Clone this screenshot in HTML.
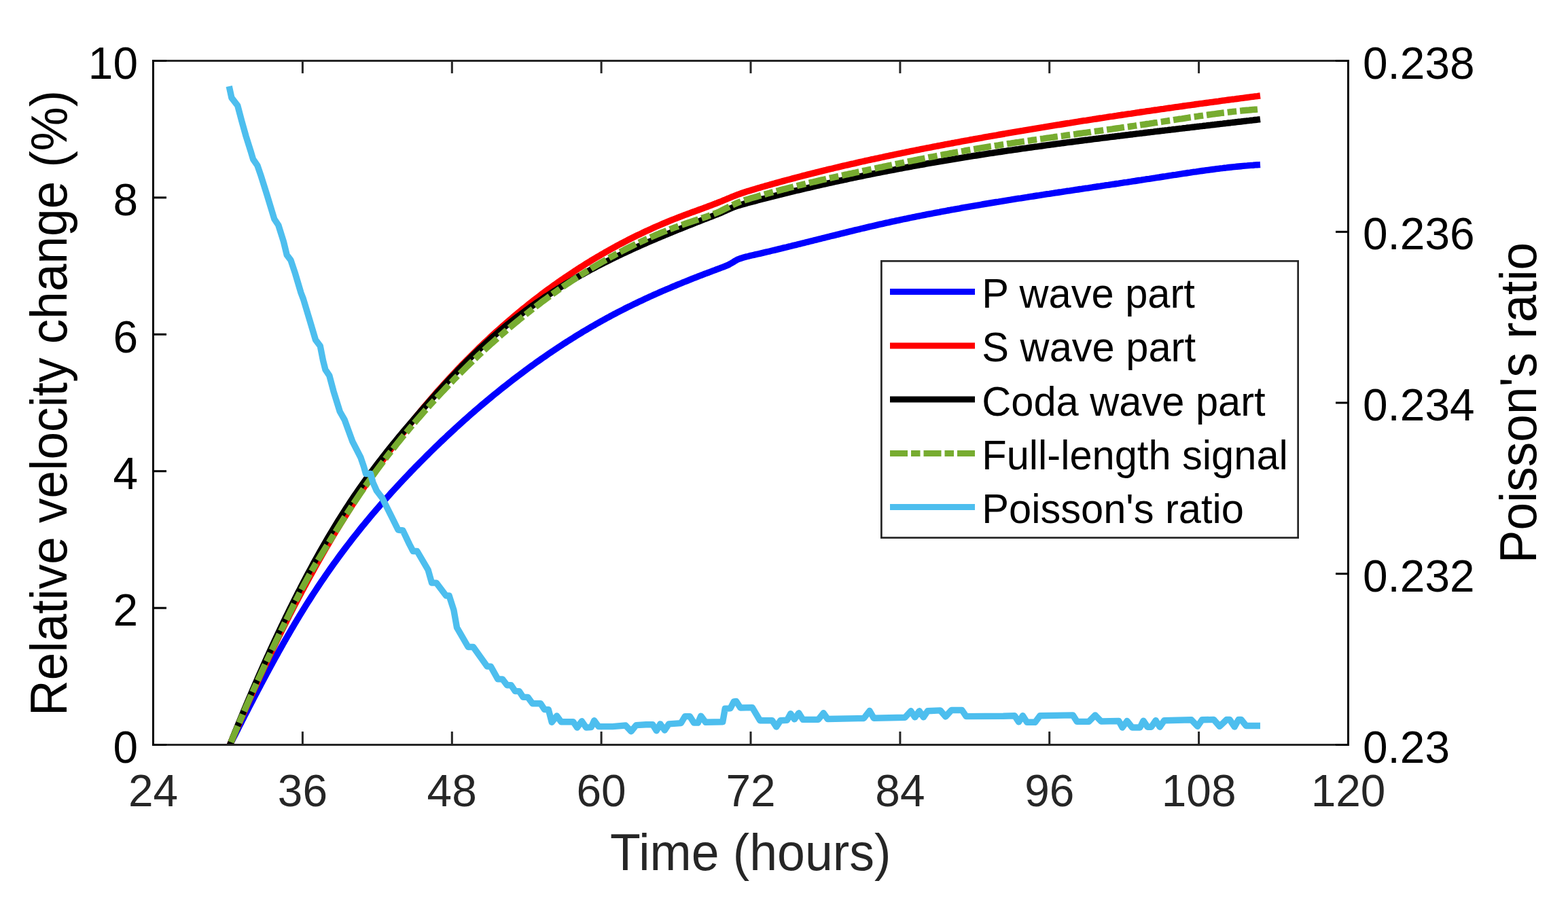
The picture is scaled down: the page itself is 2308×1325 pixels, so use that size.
<!DOCTYPE html><html><head><meta charset="utf-8"><title>Relative velocity change and Poisson's ratio</title>
<style>html,body{margin:0;padding:0;background:#fff;}svg{display:block;}text{font-family:"Liberation Sans",Arial,Helvetica,sans-serif;}</style></head><body>
<svg width="2308" height="1325" viewBox="0 0 2308 1325">
<rect width="2308" height="1325" fill="#fff"/>
<defs><clipPath id="ax"><rect x="225.5" y="89.5" width="1759.0" height="1007.0"/></clipPath></defs>
<g clip-path="url(#ax)" fill="none" stroke-width="9.4" stroke-linejoin="round" stroke-linecap="butt">
<path d="M338.5 1096.5L339.5 1094.5L340.5 1092.5L341.5 1090.5L342.5 1088.5L343.5 1086.5L344.5 1084.6L345.5 1082.6L346.5 1080.6L347.5 1078.6L348.5 1076.6L349.5 1074.7L350.5 1072.7L351.5 1070.7L352.5 1068.7L353.5 1066.8L354.5 1064.8L355.5 1062.8L356.5 1060.9L357.5 1058.9L358.5 1057.0L359.5 1055.0L360.5 1053.0L361.5 1051.1L362.5 1049.1L363.5 1047.2L364.5 1045.3L365.5 1043.3L366.5 1041.4L367.5 1039.4L368.5 1037.5L369.5 1035.6L370.5 1033.6L371.5 1031.7L372.5 1029.8L373.5 1027.9L374.5 1025.9L375.5 1024.0L376.5 1022.1L377.5 1020.2L378.5 1018.3L379.5 1016.4L380.5 1014.5L381.5 1012.6L382.5 1010.7L383.5 1008.8L384.5 1006.9L385.5 1005.0L386.5 1003.1L387.5 1001.2L388.5 999.4L389.5 997.5L390.5 995.6L391.5 993.8L392.5 991.9L393.5 990.0L394.5 988.2L395.5 986.3L396.5 984.5L397.5 982.6L398.5 980.8L399.5 978.9L400.5 977.1L401.5 975.3L402.5 973.5L403.5 971.6L404.5 969.8L405.5 968.0L406.5 966.2L407.5 964.4L408.5 962.6L409.5 960.8L410.5 959.0L411.5 957.2L412.5 955.4L413.5 953.6L414.5 951.8L415.5 950.1L416.5 948.3L417.5 946.5L418.5 944.8L419.5 943.0L420.5 941.3L421.5 939.5L422.5 937.8L423.5 936.0L424.5 934.3L425.5 932.6L426.5 930.8L427.5 929.1L428.5 927.4L429.5 925.7L430.5 924.0L431.5 922.3L432.5 920.6L433.5 918.9L434.5 917.2L435.5 915.6L436.5 913.9L437.5 912.2L438.5 910.5L439.5 908.9L440.5 907.2L441.5 905.6L442.5 903.9L443.5 902.3L444.5 900.7L445.5 899.0L446.5 897.4L447.5 895.8L448.5 894.2L449.5 892.6L452.5 887.8L455.5 883.1L458.5 878.4L461.5 873.8L464.5 869.2L467.5 864.6L470.5 860.1L473.5 855.7L476.5 851.3L479.5 846.9L482.5 842.6L485.5 838.3L488.5 834.0L491.5 829.8L494.5 825.7L497.5 821.5L500.5 817.4L503.5 813.4L506.5 809.4L509.5 805.4L512.5 801.5L515.5 797.6L518.5 793.7L521.5 789.9L524.5 786.1L527.5 782.3L530.5 778.5L533.5 774.8L536.5 771.2L539.5 767.5L542.5 763.9L545.5 760.3L548.5 756.8L551.5 753.2L554.5 749.7L557.5 746.3L560.5 742.8L563.5 739.4L566.5 736.0L569.5 732.6L572.5 729.3L575.5 725.9L578.5 722.6L581.5 719.4L584.5 716.1L587.5 712.9L590.5 709.6L593.5 706.4L596.5 703.3L599.5 700.1L602.5 697.0L605.5 693.8L608.5 690.7L611.5 687.6L614.5 684.6L617.5 681.5L620.5 678.5L623.5 675.5L626.5 672.4L629.5 669.5L632.5 666.5L635.5 663.5L638.5 660.6L641.5 657.7L644.5 654.8L647.5 651.9L650.5 649.0L653.5 646.2L656.5 643.4L659.5 640.5L662.5 637.7L665.5 635.0L668.5 632.2L671.5 629.4L674.5 626.7L677.5 624.0L680.5 621.3L683.5 618.6L686.5 615.9L689.5 613.3L692.5 610.6L695.5 608.0L698.5 605.4L701.5 602.8L704.5 600.2L707.5 597.7L710.5 595.1L713.5 592.6L716.5 590.1L719.5 587.6L722.5 585.1L725.5 582.6L728.5 580.2L731.5 577.8L734.5 575.3L737.5 572.9L740.5 570.5L743.5 568.2L746.5 565.8L749.5 563.5L752.5 561.1L755.5 558.8L758.5 556.5L761.5 554.2L764.5 552.0L767.5 549.7L770.5 547.5L773.5 545.2L776.5 543.0L779.5 540.8L782.5 538.6L785.5 536.5L788.5 534.3L791.5 532.2L794.5 530.1L797.5 527.9L800.5 525.9L803.5 523.8L806.5 521.7L809.5 519.7L812.5 517.6L815.5 515.6L818.5 513.6L821.5 511.6L824.5 509.6L827.5 507.7L830.5 505.7L833.5 503.8L836.5 501.9L839.5 500.0L842.5 498.1L845.5 496.2L848.5 494.3L851.5 492.5L854.5 490.7L857.5 488.8L860.5 487.0L863.5 485.3L866.5 483.5L869.5 481.7L872.5 480.0L875.5 478.3L878.5 476.5L881.5 474.8L884.5 473.2L887.5 471.5L890.5 469.8L893.5 468.2L896.5 466.6L899.5 464.9L902.5 463.3L905.5 461.8L908.5 460.2L911.5 458.6L914.5 457.1L917.5 455.6L920.5 454.0L923.5 452.5L926.5 451.1L929.5 449.6L932.5 448.1L935.5 446.7L938.5 445.2L941.5 443.8L944.5 442.4L947.5 441.0L950.5 439.6L953.5 438.2L956.5 436.8L959.5 435.5L962.5 434.1L965.5 432.8L968.5 431.5L971.5 430.1L974.5 428.8L977.5 427.5L980.5 426.2L983.5 425.0L986.5 423.7L989.5 422.4L992.5 421.2L995.5 419.9L998.5 418.7L1001.5 417.5L1004.5 416.2L1007.5 415.0L1010.5 413.8L1013.5 412.6L1016.5 411.4L1019.5 410.2L1022.5 409.0L1025.5 407.9L1028.5 406.7L1031.5 405.5L1034.5 404.4L1037.5 403.2L1040.5 402.1L1043.5 401.0L1046.5 399.8L1049.5 398.7L1052.5 397.6L1055.5 396.4L1058.5 395.3L1061.5 394.2L1064.5 393.1L1067.5 391.9L1070.5 390.7L1073.5 389.2L1076.5 387.5L1079.5 385.7L1082.5 383.8L1085.5 382.2L1088.5 381.0L1091.5 380.0L1094.5 379.1L1097.5 378.2L1100.5 377.5L1103.5 376.7L1106.5 376.0L1109.5 375.4L1112.5 374.7L1115.5 374.0L1118.5 373.3L1121.5 372.6L1124.5 371.9L1127.5 371.2L1130.5 370.5L1133.5 369.8L1136.5 369.0L1139.5 368.3L1142.5 367.6L1145.5 366.9L1148.5 366.2L1151.5 365.4L1154.5 364.7L1157.5 364.0L1160.5 363.2L1163.5 362.5L1166.5 361.7L1169.5 361.0L1172.5 360.3L1175.5 359.5L1178.5 358.8L1181.5 358.0L1184.5 357.3L1187.5 356.5L1190.5 355.8L1193.5 355.0L1196.5 354.3L1199.5 353.5L1202.5 352.8L1205.5 352.0L1208.5 351.3L1211.5 350.5L1214.5 349.8L1217.5 349.0L1220.5 348.3L1223.5 347.5L1226.5 346.8L1229.5 346.1L1232.5 345.3L1235.5 344.6L1238.5 343.8L1241.5 343.1L1244.5 342.4L1247.5 341.6L1250.5 340.9L1253.5 340.2L1256.5 339.4L1259.5 338.7L1262.5 338.0L1265.5 337.3L1268.5 336.5L1271.5 335.8L1274.5 335.1L1277.5 334.4L1280.5 333.7L1283.5 333.0L1286.5 332.3L1289.5 331.6L1292.5 330.9L1295.5 330.2L1298.5 329.6L1301.5 328.9L1304.5 328.2L1307.5 327.6L1310.5 326.9L1313.5 326.2L1316.5 325.6L1319.5 324.9L1322.5 324.3L1325.5 323.7L1328.5 323.0L1331.5 322.4L1334.5 321.8L1337.5 321.1L1340.5 320.5L1343.5 319.9L1346.5 319.3L1349.5 318.7L1352.5 318.1L1355.5 317.5L1358.5 316.9L1361.5 316.3L1364.5 315.7L1367.5 315.1L1370.5 314.6L1373.5 314.0L1376.5 313.4L1379.5 312.8L1382.5 312.3L1385.5 311.7L1388.5 311.1L1391.5 310.6L1394.5 310.0L1397.5 309.5L1400.5 308.9L1403.5 308.4L1406.5 307.8L1409.5 307.3L1412.5 306.8L1415.5 306.2L1418.5 305.7L1421.5 305.2L1424.5 304.7L1427.5 304.1L1430.5 303.6L1433.5 303.1L1436.5 302.6L1439.5 302.1L1442.5 301.6L1445.5 301.0L1448.5 300.5L1451.5 300.0L1454.5 299.5L1457.5 299.0L1460.5 298.5L1463.5 298.0L1466.5 297.5L1469.5 297.1L1472.5 296.6L1475.5 296.1L1478.5 295.6L1481.5 295.1L1484.5 294.6L1487.5 294.2L1490.5 293.7L1493.5 293.2L1496.5 292.7L1499.5 292.2L1502.5 291.8L1505.5 291.3L1508.5 290.8L1511.5 290.4L1514.5 289.9L1517.5 289.4L1520.5 289.0L1523.5 288.5L1526.5 288.0L1529.5 287.6L1532.5 287.1L1535.5 286.7L1538.5 286.2L1541.5 285.7L1544.5 285.3L1547.5 284.8L1550.5 284.4L1553.5 283.9L1556.5 283.5L1559.5 283.0L1562.5 282.6L1565.5 282.1L1568.5 281.7L1571.5 281.2L1574.5 280.8L1577.5 280.3L1580.5 279.9L1583.5 279.4L1586.5 279.0L1589.5 278.5L1592.5 278.1L1595.5 277.6L1598.5 277.2L1601.5 276.8L1604.5 276.3L1607.5 275.9L1610.5 275.4L1613.5 275.0L1616.5 274.5L1619.5 274.1L1622.5 273.6L1625.5 273.2L1628.5 272.7L1631.5 272.3L1634.5 271.8L1637.5 271.4L1640.5 271.0L1643.5 270.5L1646.5 270.1L1649.5 269.6L1652.5 269.2L1655.5 268.7L1658.5 268.3L1661.5 267.8L1664.5 267.4L1667.5 266.9L1670.5 266.5L1673.5 266.0L1676.5 265.5L1679.5 265.1L1682.5 264.6L1685.5 264.2L1688.5 263.7L1691.5 263.3L1694.5 262.8L1697.5 262.3L1700.5 261.9L1703.5 261.4L1706.5 261.0L1709.5 260.5L1712.5 260.0L1715.5 259.6L1718.5 259.1L1721.5 258.6L1724.5 258.2L1727.5 257.7L1730.5 257.3L1733.5 256.8L1736.5 256.3L1739.5 255.9L1742.5 255.4L1745.5 255.0L1748.5 254.5L1751.5 254.1L1754.5 253.6L1757.5 253.2L1760.5 252.8L1763.5 252.3L1766.5 251.9L1769.5 251.5L1772.5 251.1L1775.5 250.7L1778.5 250.3L1781.5 249.9L1784.5 249.5L1787.5 249.1L1790.5 248.7L1793.5 248.3L1796.5 247.9L1799.5 247.6L1802.5 247.2L1805.5 246.9L1808.5 246.5L1811.5 246.2L1814.5 245.9L1817.5 245.6L1820.5 245.3L1823.5 245.0L1826.5 244.7L1829.5 244.4L1832.5 244.1L1835.5 243.9L1838.5 243.6L1841.5 243.4L1844.5 243.2L1847.5 242.9L1850.5 242.7L1853.5 242.6L1855.0 242.5" stroke="#0000ff"/>
<path d="M338.5 1096.5L339.5 1094.1L340.5 1091.8L341.5 1089.4L342.5 1087.0L343.5 1084.7L344.5 1082.3L345.5 1080.0L346.5 1077.7L347.5 1075.3L348.5 1073.0L349.5 1070.7L350.5 1068.3L351.5 1066.0L352.5 1063.7L353.5 1061.4L354.5 1059.1L355.5 1056.8L356.5 1054.5L357.5 1052.2L358.5 1049.9L359.5 1047.6L360.5 1045.3L361.5 1043.1L362.5 1040.8L363.5 1038.5L364.5 1036.3L365.5 1034.0L366.5 1031.7L367.5 1029.5L368.5 1027.3L369.5 1025.0L370.5 1022.8L371.5 1020.5L372.5 1018.3L373.5 1016.1L374.5 1013.9L375.5 1011.7L376.5 1009.5L377.5 1007.3L378.5 1005.1L379.5 1002.9L380.5 1000.7L381.5 998.5L382.5 996.3L383.5 994.1L384.5 992.0L385.5 989.8L386.5 987.6L387.5 985.5L388.5 983.3L389.5 981.2L390.5 979.0L391.5 976.9L392.5 974.8L393.5 972.6L394.5 970.5L395.5 968.4L396.5 966.3L397.5 964.2L398.5 962.0L399.5 959.9L400.5 957.8L401.5 955.8L402.5 953.7L403.5 951.6L404.5 949.5L405.5 947.4L406.5 945.4L407.5 943.3L408.5 941.2L409.5 939.2L410.5 937.1L411.5 935.1L412.5 933.1L413.5 931.0L414.5 929.0L415.5 927.0L416.5 924.9L417.5 922.9L418.5 920.9L419.5 918.9L420.5 916.9L421.5 914.9L422.5 912.9L423.5 910.9L424.5 909.0L425.5 907.0L426.5 905.0L427.5 903.1L428.5 901.1L429.5 899.1L430.5 897.2L431.5 895.2L432.5 893.3L433.5 891.4L434.5 889.4L435.5 887.5L436.5 885.6L437.5 883.7L438.5 881.8L439.5 879.9L440.5 878.0L441.5 876.1L442.5 874.2L443.5 872.3L444.5 870.4L445.5 868.5L446.5 866.7L447.5 864.8L448.5 862.9L449.5 861.1L452.5 855.5L455.5 850.0L458.5 844.6L461.5 839.2L464.5 833.8L467.5 828.4L470.5 823.1L473.5 817.9L476.5 812.7L479.5 807.5L482.5 802.4L485.5 797.3L488.5 792.2L491.5 787.2L494.5 782.2L497.5 777.3L500.5 772.4L503.5 767.5L506.5 762.7L509.5 757.9L512.5 753.1L515.5 748.4L518.5 743.7L521.5 739.0L524.5 734.4L527.5 729.8L530.5 725.3L533.5 720.8L536.5 716.3L539.5 711.9L542.5 707.4L545.5 703.1L548.5 698.7L551.5 694.4L554.5 690.1L557.5 685.9L560.5 681.7L563.5 677.5L566.5 673.3L569.5 669.2L572.5 665.1L575.5 661.1L578.5 657.0L581.5 653.0L584.5 649.1L587.5 645.1L590.5 641.2L593.5 637.3L596.5 633.5L599.5 629.7L602.5 625.9L605.5 622.1L608.5 618.4L611.5 614.7L614.5 611.0L617.5 607.4L620.5 603.7L623.5 600.1L626.5 596.6L629.5 593.0L632.5 589.5L635.5 586.0L638.5 582.6L641.5 579.1L644.5 575.7L647.5 572.4L650.5 569.0L653.5 565.7L656.5 562.4L659.5 559.1L662.5 555.8L665.5 552.6L668.5 549.4L671.5 546.2L674.5 543.1L677.5 539.9L680.5 536.8L683.5 533.8L686.5 530.7L689.5 527.7L692.5 524.7L695.5 521.7L698.5 518.7L701.5 515.8L704.5 512.8L707.5 510.0L710.5 507.1L713.5 504.2L716.5 501.4L719.5 498.6L722.5 495.8L725.5 493.1L728.5 490.3L731.5 487.6L734.5 484.9L737.5 482.2L740.5 479.6L743.5 477.0L746.5 474.4L749.5 471.8L752.5 469.2L755.5 466.7L758.5 464.1L761.5 461.6L764.5 459.1L767.5 456.7L770.5 454.2L773.5 451.8L776.5 449.4L779.5 447.0L782.5 444.6L785.5 442.3L788.5 440.0L791.5 437.7L794.5 435.4L797.5 433.1L800.5 430.9L803.5 428.6L806.5 426.4L809.5 424.2L812.5 422.1L815.5 419.9L818.5 417.8L821.5 415.6L824.5 413.5L827.5 411.5L830.5 409.4L833.5 407.3L836.5 405.3L839.5 403.3L842.5 401.3L845.5 399.3L848.5 397.4L851.5 395.4L854.5 393.5L857.5 391.6L860.5 389.7L863.5 387.8L866.5 386.0L869.5 384.1L872.5 382.3L875.5 380.5L878.5 378.7L881.5 377.0L884.5 375.2L887.5 373.5L890.5 371.7L893.5 370.0L896.5 368.3L899.5 366.7L902.5 365.0L905.5 363.4L908.5 361.7L911.5 360.1L914.5 358.5L917.5 357.0L920.5 355.4L923.5 353.8L926.5 352.3L929.5 350.8L932.5 349.3L935.5 347.8L938.5 346.3L941.5 344.9L944.5 343.5L947.5 342.0L950.5 340.6L953.5 339.2L956.5 337.9L959.5 336.5L962.5 335.1L965.5 333.8L968.5 332.5L971.5 331.2L974.5 329.9L977.5 328.6L980.5 327.4L983.5 326.1L986.5 324.9L989.5 323.7L992.5 322.5L995.5 321.3L998.5 320.1L1001.5 319.0L1004.5 317.8L1007.5 316.7L1010.5 315.6L1013.5 314.5L1016.5 313.3L1019.5 312.2L1022.5 311.2L1025.5 310.1L1028.5 309.0L1031.5 307.9L1034.5 306.8L1037.5 305.7L1040.5 304.6L1043.5 303.4L1046.5 302.3L1049.5 301.2L1052.5 300.0L1055.5 298.9L1058.5 297.7L1061.5 296.5L1064.5 295.2L1067.5 294.0L1070.5 292.7L1073.5 291.5L1076.5 290.2L1079.5 289.0L1082.5 287.8L1085.5 286.7L1088.5 285.6L1091.5 284.5L1094.5 283.5L1097.5 282.5L1100.5 281.6L1103.5 280.7L1106.5 279.7L1109.5 278.9L1112.5 278.0L1115.5 277.1L1118.5 276.2L1121.5 275.3L1124.5 274.5L1127.5 273.6L1130.5 272.8L1133.5 271.9L1136.5 271.1L1139.5 270.2L1142.5 269.4L1145.5 268.6L1148.5 267.7L1151.5 266.9L1154.5 266.1L1157.5 265.3L1160.5 264.5L1163.5 263.7L1166.5 262.9L1169.5 262.1L1172.5 261.3L1175.5 260.5L1178.5 259.7L1181.5 258.9L1184.5 258.2L1187.5 257.4L1190.5 256.6L1193.5 255.9L1196.5 255.1L1199.5 254.4L1202.5 253.6L1205.5 252.9L1208.5 252.1L1211.5 251.4L1214.5 250.7L1217.5 249.9L1220.5 249.2L1223.5 248.5L1226.5 247.8L1229.5 247.0L1232.5 246.3L1235.5 245.6L1238.5 244.9L1241.5 244.2L1244.5 243.5L1247.5 242.8L1250.5 242.1L1253.5 241.4L1256.5 240.8L1259.5 240.1L1262.5 239.4L1265.5 238.7L1268.5 238.0L1271.5 237.4L1274.5 236.7L1277.5 236.0L1280.5 235.4L1283.5 234.7L1286.5 234.1L1289.5 233.4L1292.5 232.8L1295.5 232.1L1298.5 231.5L1301.5 230.8L1304.5 230.2L1307.5 229.6L1310.5 228.9L1313.5 228.3L1316.5 227.7L1319.5 227.0L1322.5 226.4L1325.5 225.8L1328.5 225.2L1331.5 224.6L1334.5 223.9L1337.5 223.3L1340.5 222.7L1343.5 222.1L1346.5 221.5L1349.5 220.9L1352.5 220.3L1355.5 219.7L1358.5 219.1L1361.5 218.5L1364.5 217.9L1367.5 217.4L1370.5 216.8L1373.5 216.2L1376.5 215.6L1379.5 215.0L1382.5 214.5L1385.5 213.9L1388.5 213.3L1391.5 212.7L1394.5 212.2L1397.5 211.6L1400.5 211.0L1403.5 210.5L1406.5 209.9L1409.5 209.4L1412.5 208.8L1415.5 208.2L1418.5 207.7L1421.5 207.1L1424.5 206.6L1427.5 206.0L1430.5 205.5L1433.5 204.9L1436.5 204.4L1439.5 203.9L1442.5 203.3L1445.5 202.8L1448.5 202.2L1451.5 201.7L1454.5 201.2L1457.5 200.6L1460.5 200.1L1463.5 199.6L1466.5 199.1L1469.5 198.5L1472.5 198.0L1475.5 197.5L1478.5 197.0L1481.5 196.4L1484.5 195.9L1487.5 195.4L1490.5 194.9L1493.5 194.4L1496.5 193.9L1499.5 193.4L1502.5 192.9L1505.5 192.4L1508.5 191.8L1511.5 191.3L1514.5 190.8L1517.5 190.3L1520.5 189.8L1523.5 189.3L1526.5 188.8L1529.5 188.3L1532.5 187.8L1535.5 187.4L1538.5 186.9L1541.5 186.4L1544.5 185.9L1547.5 185.4L1550.5 184.9L1553.5 184.4L1556.5 183.9L1559.5 183.5L1562.5 183.0L1565.5 182.5L1568.5 182.0L1571.5 181.5L1574.5 181.1L1577.5 180.6L1580.5 180.1L1583.5 179.6L1586.5 179.2L1589.5 178.7L1592.5 178.2L1595.5 177.7L1598.5 177.3L1601.5 176.8L1604.5 176.3L1607.5 175.9L1610.5 175.4L1613.5 175.0L1616.5 174.5L1619.5 174.0L1622.5 173.6L1625.5 173.1L1628.5 172.7L1631.5 172.2L1634.5 171.7L1637.5 171.3L1640.5 170.8L1643.5 170.4L1646.5 169.9L1649.5 169.5L1652.5 169.0L1655.5 168.6L1658.5 168.1L1661.5 167.7L1664.5 167.3L1667.5 166.8L1670.5 166.4L1673.5 165.9L1676.5 165.5L1679.5 165.0L1682.5 164.6L1685.5 164.2L1688.5 163.7L1691.5 163.3L1694.5 162.9L1697.5 162.4L1700.5 162.0L1703.5 161.6L1706.5 161.1L1709.5 160.7L1712.5 160.3L1715.5 159.8L1718.5 159.4L1721.5 159.0L1724.5 158.6L1727.5 158.1L1730.5 157.7L1733.5 157.3L1736.5 156.9L1739.5 156.5L1742.5 156.0L1745.5 155.6L1748.5 155.2L1751.5 154.8L1754.5 154.4L1757.5 154.0L1760.5 153.5L1763.5 153.1L1766.5 152.7L1769.5 152.3L1772.5 151.9L1775.5 151.5L1778.5 151.1L1781.5 150.7L1784.5 150.3L1787.5 149.9L1790.5 149.5L1793.5 149.1L1796.5 148.6L1799.5 148.2L1802.5 147.8L1805.5 147.4L1808.5 147.0L1811.5 146.6L1814.5 146.2L1817.5 145.9L1820.5 145.5L1823.5 145.1L1826.5 144.7L1829.5 144.3L1832.5 143.9L1835.5 143.5L1838.5 143.1L1841.5 142.7L1844.5 142.3L1847.5 141.9L1850.5 141.6L1853.5 141.2L1855.0 141.0" stroke="#ff0000"/>
<path d="M338.5 1096.5L339.5 1094.0L340.5 1091.5L341.5 1089.0L342.5 1086.5L343.5 1084.0L344.5 1081.6L345.5 1079.1L346.5 1076.6L347.5 1074.2L348.5 1071.7L349.5 1069.2L350.5 1066.8L351.5 1064.4L352.5 1061.9L353.5 1059.5L354.5 1057.1L355.5 1054.7L356.5 1052.2L357.5 1049.8L358.5 1047.4L359.5 1045.0L360.5 1042.6L361.5 1040.3L362.5 1037.9L363.5 1035.5L364.5 1033.1L365.5 1030.8L366.5 1028.4L367.5 1026.1L368.5 1023.7L369.5 1021.4L370.5 1019.0L371.5 1016.7L372.5 1014.4L373.5 1012.1L374.5 1009.7L375.5 1007.4L376.5 1005.1L377.5 1002.8L378.5 1000.5L379.5 998.2L380.5 996.0L381.5 993.7L382.5 991.4L383.5 989.1L384.5 986.9L385.5 984.6L386.5 982.4L387.5 980.1L388.5 977.9L389.5 975.7L390.5 973.4L391.5 971.2L392.5 969.0L393.5 966.8L394.5 964.6L395.5 962.4L396.5 960.2L397.5 958.0L398.5 955.8L399.5 953.6L400.5 951.4L401.5 949.3L402.5 947.1L403.5 945.0L404.5 942.8L405.5 940.7L406.5 938.5L407.5 936.4L408.5 934.3L409.5 932.1L410.5 930.0L411.5 927.9L412.5 925.8L413.5 923.7L414.5 921.6L415.5 919.5L416.5 917.4L417.5 915.3L418.5 913.3L419.5 911.2L420.5 909.1L421.5 907.1L422.5 905.0L423.5 903.0L424.5 900.9L425.5 898.9L426.5 896.9L427.5 894.8L428.5 892.8L429.5 890.8L430.5 888.8L431.5 886.8L432.5 884.8L433.5 882.8L434.5 880.8L435.5 878.8L436.5 876.9L437.5 874.9L438.5 872.9L439.5 871.0L440.5 869.0L441.5 867.1L442.5 865.1L443.5 863.2L444.5 861.3L445.5 859.3L446.5 857.4L447.5 855.5L448.5 853.6L449.5 851.7L452.5 846.0L455.5 840.4L458.5 834.9L461.5 829.3L464.5 823.9L467.5 818.5L470.5 813.1L473.5 807.8L476.5 802.6L479.5 797.4L482.5 792.2L485.5 787.1L488.5 782.1L491.5 777.1L494.5 772.2L497.5 767.3L500.5 762.5L503.5 757.7L506.5 753.0L509.5 748.3L512.5 743.7L515.5 739.2L518.5 734.7L521.5 730.2L524.5 725.8L527.5 721.5L530.5 717.2L533.5 712.9L536.5 708.7L539.5 704.5L542.5 700.4L545.5 696.3L548.5 692.3L551.5 688.3L554.5 684.3L557.5 680.4L560.5 676.5L563.5 672.6L566.5 668.8L569.5 665.0L572.5 661.2L575.5 657.5L578.5 653.8L581.5 650.1L584.5 646.4L587.5 642.8L590.5 639.2L593.5 635.6L596.5 632.0L599.5 628.5L602.5 625.0L605.5 621.5L608.5 618.0L611.5 614.5L614.5 611.1L617.5 607.6L620.5 604.2L623.5 600.8L626.5 597.4L629.5 594.0L632.5 590.6L635.5 587.2L638.5 583.8L641.5 580.5L644.5 577.1L647.5 573.8L650.5 570.5L653.5 567.2L656.5 564.0L659.5 560.7L662.5 557.5L665.5 554.3L668.5 551.1L671.5 548.0L674.5 544.8L677.5 541.7L680.5 538.6L683.5 535.6L686.5 532.5L689.5 529.5L692.5 526.6L695.5 523.6L698.5 520.7L701.5 517.8L704.5 515.0L707.5 512.2L710.5 509.4L713.5 506.6L716.5 503.9L719.5 501.2L722.5 498.5L725.5 495.9L728.5 493.3L731.5 490.7L734.5 488.2L737.5 485.6L740.5 483.2L743.5 480.7L746.5 478.2L749.5 475.8L752.5 473.4L755.5 471.1L758.5 468.8L761.5 466.4L764.5 464.2L767.5 461.9L770.5 459.7L773.5 457.4L776.5 455.3L779.5 453.1L782.5 450.9L785.5 448.8L788.5 446.7L791.5 444.6L794.5 442.6L797.5 440.6L800.5 438.5L803.5 436.5L806.5 434.6L809.5 432.6L812.5 430.7L815.5 428.8L818.5 426.9L821.5 425.0L824.5 423.1L827.5 421.3L830.5 419.4L833.5 417.6L836.5 415.8L839.5 414.1L842.5 412.3L845.5 410.6L848.5 408.8L851.5 407.1L854.5 405.4L857.5 403.8L860.5 402.1L863.5 400.4L866.5 398.8L869.5 397.2L872.5 395.6L875.5 394.0L878.5 392.4L881.5 390.9L884.5 389.3L887.5 387.8L890.5 386.2L893.5 384.7L896.5 383.2L899.5 381.7L902.5 380.3L905.5 378.8L908.5 377.4L911.5 375.9L914.5 374.5L917.5 373.1L920.5 371.7L923.5 370.3L926.5 368.9L929.5 367.5L932.5 366.1L935.5 364.8L938.5 363.4L941.5 362.1L944.5 360.7L947.5 359.4L950.5 358.1L953.5 356.8L956.5 355.5L959.5 354.2L962.5 352.9L965.5 351.6L968.5 350.3L971.5 349.1L974.5 347.8L977.5 346.6L980.5 345.3L983.5 344.1L986.5 342.9L989.5 341.6L992.5 340.4L995.5 339.2L998.5 338.0L1001.5 336.8L1004.5 335.6L1007.5 334.4L1010.5 333.2L1013.5 332.0L1016.5 330.8L1019.5 329.6L1022.5 328.4L1025.5 327.2L1028.5 326.1L1031.5 324.9L1034.5 323.7L1037.5 322.5L1040.5 321.4L1043.5 320.2L1046.5 319.1L1049.5 317.9L1052.5 316.7L1055.5 315.6L1058.5 314.3L1061.5 313.1L1064.5 311.8L1067.5 310.5L1070.5 309.1L1073.5 307.7L1076.5 306.4L1079.5 305.2L1082.5 304.1L1085.5 303.1L1088.5 302.2L1091.5 301.3L1094.5 300.4L1097.5 299.6L1100.5 298.8L1103.5 298.0L1106.5 297.2L1109.5 296.4L1112.5 295.6L1115.5 294.8L1118.5 294.0L1121.5 293.2L1124.5 292.5L1127.5 291.7L1130.5 290.9L1133.5 290.1L1136.5 289.4L1139.5 288.6L1142.5 287.9L1145.5 287.1L1148.5 286.4L1151.5 285.6L1154.5 284.9L1157.5 284.2L1160.5 283.4L1163.5 282.7L1166.5 282.0L1169.5 281.2L1172.5 280.5L1175.5 279.8L1178.5 279.1L1181.5 278.4L1184.5 277.7L1187.5 277.0L1190.5 276.3L1193.5 275.6L1196.5 274.9L1199.5 274.2L1202.5 273.5L1205.5 272.8L1208.5 272.2L1211.5 271.5L1214.5 270.8L1217.5 270.2L1220.5 269.5L1223.5 268.8L1226.5 268.2L1229.5 267.5L1232.5 266.9L1235.5 266.2L1238.5 265.6L1241.5 264.9L1244.5 264.3L1247.5 263.6L1250.5 263.0L1253.5 262.4L1256.5 261.7L1259.5 261.1L1262.5 260.5L1265.5 259.9L1268.5 259.3L1271.5 258.6L1274.5 258.0L1277.5 257.4L1280.5 256.8L1283.5 256.2L1286.5 255.6L1289.5 255.0L1292.5 254.4L1295.5 253.8L1298.5 253.2L1301.5 252.6L1304.5 252.1L1307.5 251.5L1310.5 250.9L1313.5 250.3L1316.5 249.8L1319.5 249.2L1322.5 248.6L1325.5 248.0L1328.5 247.5L1331.5 246.9L1334.5 246.4L1337.5 245.8L1340.5 245.3L1343.5 244.7L1346.5 244.2L1349.5 243.6L1352.5 243.1L1355.5 242.5L1358.5 242.0L1361.5 241.5L1364.5 240.9L1367.5 240.4L1370.5 239.9L1373.5 239.4L1376.5 238.8L1379.5 238.3L1382.5 237.8L1385.5 237.3L1388.5 236.8L1391.5 236.3L1394.5 235.8L1397.5 235.3L1400.5 234.8L1403.5 234.3L1406.5 233.8L1409.5 233.3L1412.5 232.8L1415.5 232.3L1418.5 231.8L1421.5 231.4L1424.5 230.9L1427.5 230.4L1430.5 229.9L1433.5 229.4L1436.5 229.0L1439.5 228.5L1442.5 228.0L1445.5 227.6L1448.5 227.1L1451.5 226.7L1454.5 226.2L1457.5 225.7L1460.5 225.3L1463.5 224.8L1466.5 224.4L1469.5 223.9L1472.5 223.5L1475.5 223.0L1478.5 222.6L1481.5 222.2L1484.5 221.7L1487.5 221.3L1490.5 220.9L1493.5 220.4L1496.5 220.0L1499.5 219.6L1502.5 219.1L1505.5 218.7L1508.5 218.3L1511.5 217.9L1514.5 217.4L1517.5 217.0L1520.5 216.6L1523.5 216.2L1526.5 215.8L1529.5 215.4L1532.5 215.0L1535.5 214.5L1538.5 214.1L1541.5 213.7L1544.5 213.3L1547.5 212.9L1550.5 212.5L1553.5 212.1L1556.5 211.7L1559.5 211.3L1562.5 210.9L1565.5 210.5L1568.5 210.1L1571.5 209.7L1574.5 209.3L1577.5 209.0L1580.5 208.6L1583.5 208.2L1586.5 207.8L1589.5 207.4L1592.5 207.0L1595.5 206.6L1598.5 206.2L1601.5 205.9L1604.5 205.5L1607.5 205.1L1610.5 204.7L1613.5 204.3L1616.5 204.0L1619.5 203.6L1622.5 203.2L1625.5 202.8L1628.5 202.5L1631.5 202.1L1634.5 201.7L1637.5 201.3L1640.5 201.0L1643.5 200.6L1646.5 200.2L1649.5 199.9L1652.5 199.5L1655.5 199.1L1658.5 198.8L1661.5 198.4L1664.5 198.0L1667.5 197.7L1670.5 197.3L1673.5 196.9L1676.5 196.6L1679.5 196.2L1682.5 195.9L1685.5 195.5L1688.5 195.1L1691.5 194.8L1694.5 194.4L1697.5 194.1L1700.5 193.7L1703.5 193.3L1706.5 193.0L1709.5 192.6L1712.5 192.3L1715.5 191.9L1718.5 191.6L1721.5 191.2L1724.5 190.9L1727.5 190.5L1730.5 190.2L1733.5 189.8L1736.5 189.4L1739.5 189.1L1742.5 188.7L1745.5 188.4L1748.5 188.0L1751.5 187.7L1754.5 187.3L1757.5 187.0L1760.5 186.6L1763.5 186.3L1766.5 185.9L1769.5 185.6L1772.5 185.2L1775.5 184.9L1778.5 184.5L1781.5 184.2L1784.5 183.8L1787.5 183.5L1790.5 183.1L1793.5 182.8L1796.5 182.4L1799.5 182.1L1802.5 181.7L1805.5 181.4L1808.5 181.0L1811.5 180.7L1814.5 180.3L1817.5 180.0L1820.5 179.6L1823.5 179.3L1826.5 179.0L1829.5 178.6L1832.5 178.3L1835.5 177.9L1838.5 177.6L1841.5 177.2L1844.5 176.9L1847.5 176.5L1850.5 176.2L1853.5 175.8L1855.0 175.6" stroke="#000000"/>
<path d="M338.5 1096.5L339.5 1094.1L340.5 1091.7L341.5 1089.2L342.5 1086.8L343.5 1084.4L344.5 1082.0L345.5 1079.7L346.5 1077.3L347.5 1074.9L348.5 1072.5L349.5 1070.2L350.5 1067.8L351.5 1065.4L352.5 1063.1L353.5 1060.8L354.5 1058.4L355.5 1056.1L356.5 1053.8L357.5 1051.4L358.5 1049.1L359.5 1046.8L360.5 1044.5L361.5 1042.2L362.5 1039.9L363.5 1037.6L364.5 1035.4L365.5 1033.1L366.5 1030.8L367.5 1028.5L368.5 1026.3L369.5 1024.0L370.5 1021.8L371.5 1019.5L372.5 1017.3L373.5 1015.0L374.5 1012.8L375.5 1010.6L376.5 1008.3L377.5 1006.1L378.5 1003.9L379.5 1001.7L380.5 999.5L381.5 997.3L382.5 995.1L383.5 992.9L384.5 990.7L385.5 988.5L386.5 986.4L387.5 984.2L388.5 982.0L389.5 979.8L390.5 977.7L391.5 975.5L392.5 973.4L393.5 971.2L394.5 969.1L395.5 966.9L396.5 964.8L397.5 962.7L398.5 960.5L399.5 958.4L400.5 956.3L401.5 954.2L402.5 952.1L403.5 949.9L404.5 947.8L405.5 945.7L406.5 943.6L407.5 941.5L408.5 939.5L409.5 937.4L410.5 935.3L411.5 933.2L412.5 931.1L413.5 929.0L414.5 927.0L415.5 924.9L416.5 922.8L417.5 920.8L418.5 918.7L419.5 916.7L420.5 914.6L421.5 912.6L422.5 910.5L423.5 908.5L424.5 906.4L425.5 904.4L426.5 902.4L427.5 900.3L428.5 898.3L429.5 896.3L430.5 894.3L431.5 892.3L432.5 890.2L433.5 888.2L434.5 886.2L435.5 884.2L436.5 882.3L437.5 880.3L438.5 878.3L439.5 876.3L440.5 874.4L441.5 872.4L442.5 870.5L443.5 868.5L444.5 866.6L445.5 864.7L446.5 862.8L447.5 860.9L448.5 859.0L449.5 857.2L452.5 851.6L455.5 846.2L458.5 841.0L461.5 835.8L464.5 830.7L467.5 825.7L470.5 820.7L473.5 815.8L476.5 810.9L479.5 806.1L482.5 801.3L485.5 796.4L488.5 791.6L491.5 786.8L494.5 781.9L497.5 777.1L500.5 772.3L503.5 767.5L506.5 762.8L509.5 758.0L512.5 753.4L515.5 748.7L518.5 744.1L521.5 739.6L524.5 735.1L527.5 730.6L530.5 726.2L533.5 721.8L536.5 717.5L539.5 713.2L542.5 708.9L545.5 704.7L548.5 700.5L551.5 696.4L554.5 692.3L557.5 688.2L560.5 684.2L563.5 680.2L566.5 676.3L569.5 672.3L572.5 668.4L575.5 664.6L578.5 660.8L581.5 657.0L584.5 653.2L587.5 649.5L590.5 645.8L593.5 642.1L596.5 638.5L599.5 634.9L602.5 631.3L605.5 627.8L608.5 624.2L611.5 620.7L614.5 617.2L617.5 613.8L620.5 610.4L623.5 607.0L626.5 603.6L629.5 600.2L632.5 596.9L635.5 593.6L638.5 590.3L641.5 587.0L644.5 583.8L647.5 580.6L650.5 577.4L653.5 574.2L656.5 571.0L659.5 567.9L662.5 564.8L665.5 561.7L668.5 558.6L671.5 555.5L674.5 552.5L677.5 549.5L680.5 546.5L683.5 543.5L686.5 540.5L689.5 537.6L692.5 534.7L695.5 531.8L698.5 528.9L701.5 526.1L704.5 523.2L707.5 520.4L710.5 517.6L713.5 514.8L716.5 512.1L719.5 509.3L722.5 506.6L725.5 503.9L728.5 501.2L731.5 498.6L734.5 495.9L737.5 493.3L740.5 490.7L743.5 488.1L746.5 485.5L749.5 483.0L752.5 480.4L755.5 477.9L758.5 475.4L761.5 473.0L764.5 470.5L767.5 468.1L770.5 465.6L773.5 463.2L776.5 460.8L779.5 458.5L782.5 456.1L785.5 453.8L788.5 451.5L791.5 449.2L794.5 446.9L797.5 444.6L800.5 442.4L803.5 440.2L806.5 438.0L809.5 435.8L812.5 433.6L815.5 431.4L818.5 429.3L821.5 427.2L824.5 425.1L827.5 423.0L830.5 420.9L833.5 418.9L836.5 416.9L839.5 414.8L842.5 412.8L845.5 410.9L848.5 408.9L851.5 407.0L854.5 405.0L857.5 403.1L860.5 401.2L863.5 399.4L866.5 397.5L869.5 395.7L872.5 393.8L875.5 392.0L878.5 390.2L881.5 388.5L884.5 386.7L887.5 385.0L890.5 383.3L893.5 381.6L896.5 379.9L899.5 378.2L902.5 376.6L905.5 374.9L908.5 373.3L911.5 371.7L914.5 370.1L917.5 368.6L920.5 367.0L923.5 365.5L926.5 364.0L929.5 362.5L932.5 361.0L935.5 359.6L938.5 358.1L941.5 356.7L944.5 355.3L947.5 353.9L950.5 352.5L953.5 351.2L956.5 349.8L959.5 348.5L962.5 347.2L965.5 345.9L968.5 344.7L971.5 343.4L974.5 342.2L977.5 341.0L980.5 339.8L983.5 338.6L986.5 337.4L989.5 336.3L992.5 335.2L995.5 334.1L998.5 333.0L1001.5 331.9L1004.5 330.9L1007.5 329.8L1010.5 328.8L1013.5 327.8L1016.5 326.8L1019.5 325.8L1022.5 324.8L1025.5 323.8L1028.5 322.8L1031.5 321.7L1034.5 320.7L1037.5 319.7L1040.5 318.7L1043.5 317.6L1046.5 316.5L1049.5 315.4L1052.5 314.2L1055.5 313.0L1058.5 311.7L1061.5 310.3L1064.5 308.8L1067.5 307.3L1070.5 305.8L1073.5 304.3L1076.5 302.7L1079.5 301.3L1082.5 299.9L1085.5 298.6L1088.5 297.4L1091.5 296.3L1094.5 295.3L1097.5 294.3L1100.5 293.4L1103.5 292.5L1106.5 291.6L1109.5 290.7L1112.5 289.9L1115.5 289.0L1118.5 288.1L1121.5 287.3L1124.5 286.4L1127.5 285.6L1130.5 284.8L1133.5 283.9L1136.5 283.1L1139.5 282.3L1142.5 281.5L1145.5 280.7L1148.5 279.9L1151.5 279.1L1154.5 278.3L1157.5 277.6L1160.5 276.8L1163.5 276.0L1166.5 275.3L1169.5 274.5L1172.5 273.8L1175.5 273.0L1178.5 272.3L1181.5 271.6L1184.5 270.9L1187.5 270.1L1190.5 269.4L1193.5 268.7L1196.5 268.0L1199.5 267.3L1202.5 266.6L1205.5 265.9L1208.5 265.2L1211.5 264.5L1214.5 263.9L1217.5 263.2L1220.5 262.5L1223.5 261.8L1226.5 261.2L1229.5 260.5L1232.5 259.8L1235.5 259.2L1238.5 258.5L1241.5 257.9L1244.5 257.2L1247.5 256.6L1250.5 255.9L1253.5 255.3L1256.5 254.6L1259.5 254.0L1262.5 253.3L1265.5 252.7L1268.5 252.1L1271.5 251.4L1274.5 250.8L1277.5 250.2L1280.5 249.5L1283.5 248.9L1286.5 248.3L1289.5 247.7L1292.5 247.0L1295.5 246.4L1298.5 245.8L1301.5 245.1L1304.5 244.5L1307.5 243.9L1310.5 243.3L1313.5 242.7L1316.5 242.0L1319.5 241.4L1322.5 240.8L1325.5 240.2L1328.5 239.6L1331.5 238.9L1334.5 238.3L1337.5 237.7L1340.5 237.1L1343.5 236.5L1346.5 235.9L1349.5 235.3L1352.5 234.7L1355.5 234.1L1358.5 233.5L1361.5 232.9L1364.5 232.3L1367.5 231.7L1370.5 231.1L1373.5 230.6L1376.5 230.0L1379.5 229.4L1382.5 228.8L1385.5 228.3L1388.5 227.7L1391.5 227.1L1394.5 226.6L1397.5 226.0L1400.5 225.5L1403.5 224.9L1406.5 224.4L1409.5 223.8L1412.5 223.3L1415.5 222.8L1418.5 222.3L1421.5 221.7L1424.5 221.2L1427.5 220.7L1430.5 220.2L1433.5 219.7L1436.5 219.2L1439.5 218.7L1442.5 218.2L1445.5 217.7L1448.5 217.2L1451.5 216.7L1454.5 216.2L1457.5 215.7L1460.5 215.3L1463.5 214.8L1466.5 214.3L1469.5 213.9L1472.5 213.4L1475.5 212.9L1478.5 212.5L1481.5 212.0L1484.5 211.5L1487.5 211.1L1490.5 210.6L1493.5 210.2L1496.5 209.7L1499.5 209.3L1502.5 208.8L1505.5 208.4L1508.5 208.0L1511.5 207.5L1514.5 207.1L1517.5 206.7L1520.5 206.2L1523.5 205.8L1526.5 205.4L1529.5 204.9L1532.5 204.5L1535.5 204.1L1538.5 203.6L1541.5 203.2L1544.5 202.8L1547.5 202.4L1550.5 202.0L1553.5 201.5L1556.5 201.1L1559.5 200.7L1562.5 200.3L1565.5 199.9L1568.5 199.4L1571.5 199.0L1574.5 198.6L1577.5 198.2L1580.5 197.8L1583.5 197.4L1586.5 196.9L1589.5 196.5L1592.5 196.1L1595.5 195.7L1598.5 195.3L1601.5 194.9L1604.5 194.5L1607.5 194.0L1610.5 193.6L1613.5 193.2L1616.5 192.8L1619.5 192.4L1622.5 192.0L1625.5 191.5L1628.5 191.1L1631.5 190.7L1634.5 190.3L1637.5 189.9L1640.5 189.4L1643.5 189.0L1646.5 188.6L1649.5 188.2L1652.5 187.7L1655.5 187.3L1658.5 186.9L1661.5 186.5L1664.5 186.0L1667.5 185.6L1670.5 185.2L1673.5 184.7L1676.5 184.3L1679.5 183.8L1682.5 183.4L1685.5 183.0L1688.5 182.5L1691.5 182.1L1694.5 181.6L1697.5 181.2L1700.5 180.7L1703.5 180.3L1706.5 179.8L1709.5 179.4L1712.5 178.9L1715.5 178.4L1718.5 178.0L1721.5 177.5L1724.5 177.1L1727.5 176.6L1730.5 176.1L1733.5 175.7L1736.5 175.2L1739.5 174.8L1742.5 174.3L1745.5 173.8L1748.5 173.4L1751.5 172.9L1754.5 172.5L1757.5 172.0L1760.5 171.6L1763.5 171.2L1766.5 170.7L1769.5 170.3L1772.5 169.9L1775.5 169.4L1778.5 169.0L1781.5 168.6L1784.5 168.2L1787.5 167.8L1790.5 167.4L1793.5 167.0L1796.5 166.6L1799.5 166.2L1802.5 165.9L1805.5 165.5L1808.5 165.1L1811.5 164.8L1814.5 164.4L1817.5 164.1L1820.5 163.8L1823.5 163.4L1826.5 163.1L1829.5 162.8L1832.5 162.5L1835.5 162.2L1838.5 162.0L1841.5 161.7L1844.5 161.4L1847.5 161.2L1850.5 161.0L1853.5 160.7L1855.0 160.6" stroke="#77ac30" stroke-dasharray="26 5 13.5 5" stroke-dashoffset="-4"/>
<path d="M337.2 127.0L340.9 144.0L349.7 155.3L355.7 177.9L362.1 200.6L369.2 223.2L372.6 234.5L378.9 243.6L383.6 257.2L393.2 287.7L403.8 322.5L409.8 331.5L417.4 355.7L422.2 375.3L427.9 382.8L434.0 400.9L443.0 431.1L446.4 440.0L455.5 470.2L464.5 500.4L471.3 509.4L475.5 530.6L478.9 544.2L484.9 553.2L490.9 575.8L500.3 606.0L507.2 618.1L518.9 650.2L530.9 673.5L535.5 687.0L538.5 697.5L545.5 697.5L549.0 710.4L554.4 722.5L562.6 733.2L574.0 755.8L586.0 780.0L593.0 781.0L602.6 801.1L608.0 811.5L614.0 811.5L630.2 839.2L635.5 858.1L642.3 858.1L656.6 877.0L661.1 877.0L667.9 898.1L672.5 923.8L689.1 952.5L696.6 952.5L717.0 981.1L722.3 981.1L732.8 999.9L739.6 999.9L746.5 1008.8L752.4 1008.8L758.3 1017.6L764.2 1017.6L770.0 1026.4L776.9 1026.4L783.8 1035.7L795.6 1035.7L801.5 1044.6L807.3 1044.6L812.2 1063.2L819.6 1053.9L826.0 1062.7L843.7 1062.7L849.5 1071.1L856.4 1061.8L862.8 1071.1L870.2 1070.6L874.6 1060.8L881.0 1069.6L901.5 1069.6L920.8 1068.0L929.0 1076.7L936.4 1067.6L951.1 1066.7L960.7 1066.7L966.3 1075.8L971.9 1065.9L978.4 1075.0L984.5 1065.9L1002.3 1064.6L1008.3 1054.6L1015.3 1054.6L1021.3 1064.1L1027.4 1064.1L1031.7 1054.2L1038.6 1063.3L1063.8 1062.8L1067.2 1043.3L1075.0 1042.9L1080.2 1032.9L1083.7 1032.5L1089.8 1042.0L1107.3 1041.6L1118.6 1060.7L1136.5 1060.7L1142.8 1070.0L1148.9 1060.7L1158.5 1060.2L1163.7 1050.7L1169.3 1058.9L1175.8 1049.8L1181.9 1059.4L1204.4 1059.4L1212.2 1049.8L1218.2 1058.5L1263.3 1057.6L1271.5 1057.5L1280.0 1046.5L1286.1 1057.2L1332.0 1056.3L1340.7 1046.8L1346.7 1055.9L1353.2 1046.8L1359.3 1055.9L1365.4 1046.8L1384.0 1045.9L1391.8 1055.0L1400.5 1045.5L1416.0 1045.5L1422.1 1054.6L1476.7 1054.2L1493.4 1053.7L1499.5 1062.8L1505.5 1053.7L1511.6 1063.3L1523.7 1063.3L1530.7 1053.7L1579.2 1052.9L1585.3 1062.4L1602.6 1062.4L1612.1 1052.9L1620.8 1062.0L1646.8 1061.5L1652.0 1071.1L1659.0 1061.5L1666.5 1071.0L1678.0 1071.0L1683.0 1061.1L1689.0 1070.2L1694.7 1070.2L1701.2 1060.7L1707.2 1070.2L1713.7 1060.7L1753.6 1059.8L1762.7 1069.3L1769.2 1059.8L1786.5 1059.4L1795.2 1069.3L1805.5 1059.5L1810.0 1059.5L1817.2 1070.0L1823.0 1059.5L1827.0 1059.5L1834.2 1068.5L1855.0 1068.5" stroke="#4dbeee"/>
</g>
<g fill="#262626">
<rect x="224.0" y="1095.0" width="1762.0" height="3"/>
<rect x="224.0" y="88.0" width="1762.0" height="3"/>
<rect x="224.0" y="1077.0" width="3" height="19.5"/>
<rect x="224.0" y="89.5" width="3" height="18.4"/>
<rect x="443.9" y="1077.0" width="3" height="19.5"/>
<rect x="443.9" y="89.5" width="3" height="18.4"/>
<rect x="663.8" y="1077.0" width="3" height="19.5"/>
<rect x="663.8" y="89.5" width="3" height="18.4"/>
<rect x="883.6" y="1077.0" width="3" height="19.5"/>
<rect x="883.6" y="89.5" width="3" height="18.4"/>
<rect x="1103.5" y="1077.0" width="3" height="19.5"/>
<rect x="1103.5" y="89.5" width="3" height="18.4"/>
<rect x="1323.4" y="1077.0" width="3" height="19.5"/>
<rect x="1323.4" y="89.5" width="3" height="18.4"/>
<rect x="1543.2" y="1077.0" width="3" height="19.5"/>
<rect x="1543.2" y="89.5" width="3" height="18.4"/>
<rect x="1763.1" y="1077.0" width="3" height="19.5"/>
<rect x="1763.1" y="89.5" width="3" height="18.4"/>
<rect x="1983.0" y="1077.0" width="3" height="19.5"/>
<rect x="1983.0" y="89.5" width="3" height="18.4"/>
</g>
<g fill="#000">
<rect x="224.0" y="88.0" width="3" height="1010.0"/>
<rect x="1983.0" y="88.0" width="3" height="1010.0"/>
<rect x="225.5" y="1095.0" width="19.5" height="3"/>
<rect x="225.5" y="893.6" width="19.5" height="3"/>
<rect x="225.5" y="692.2" width="19.5" height="3"/>
<rect x="225.5" y="490.8" width="19.5" height="3"/>
<rect x="225.5" y="289.4" width="19.5" height="3"/>
<rect x="225.5" y="88.0" width="19.5" height="3"/>
<rect x="1966.0" y="1095.0" width="18.5" height="3"/>
<rect x="1966.0" y="843.2" width="18.5" height="3"/>
<rect x="1966.0" y="591.5" width="18.5" height="3"/>
<rect x="1966.0" y="339.8" width="18.5" height="3"/>
<rect x="1966.0" y="88.0" width="18.5" height="3"/>
</g>
<text transform="translate(203.0 1122.7) scale(1 1.025)" font-size="65.8" text-anchor="end" fill="#000">0</text>
<text transform="translate(203.0 921.3) scale(1 1.025)" font-size="65.8" text-anchor="end" fill="#000">2</text>
<text transform="translate(203.0 719.9) scale(1 1.025)" font-size="65.8" text-anchor="end" fill="#000">4</text>
<text transform="translate(203.0 518.5) scale(1 1.025)" font-size="65.8" text-anchor="end" fill="#000">6</text>
<text transform="translate(203.0 317.1) scale(1 1.025)" font-size="65.8" text-anchor="end" fill="#000">8</text>
<text transform="translate(203.0 115.7) scale(1 1.025)" font-size="65.8" text-anchor="end" fill="#000">10</text>
<text transform="translate(2006.0 1122.5) scale(1 1.025)" font-size="65.8" text-anchor="start" fill="#000">0.23</text>
<text transform="translate(2006.0 870.8) scale(1 1.025)" font-size="65.8" text-anchor="start" fill="#000">0.232</text>
<text transform="translate(2006.0 619.0) scale(1 1.025)" font-size="65.8" text-anchor="start" fill="#000">0.234</text>
<text transform="translate(2006.0 367.2) scale(1 1.025)" font-size="65.8" text-anchor="start" fill="#000">0.236</text>
<text transform="translate(2006.0 115.5) scale(1 1.025)" font-size="65.8" text-anchor="start" fill="#000">0.238</text>
<text transform="translate(225.5 1186.5) scale(1 1.025)" font-size="65.8" text-anchor="middle" fill="#262626">24</text>
<text transform="translate(445.4 1186.5) scale(1 1.025)" font-size="65.8" text-anchor="middle" fill="#262626">36</text>
<text transform="translate(665.2 1186.5) scale(1 1.025)" font-size="65.8" text-anchor="middle" fill="#262626">48</text>
<text transform="translate(885.1 1186.5) scale(1 1.025)" font-size="65.8" text-anchor="middle" fill="#262626">60</text>
<text transform="translate(1105.0 1186.5) scale(1 1.025)" font-size="65.8" text-anchor="middle" fill="#262626">72</text>
<text transform="translate(1324.9 1186.5) scale(1 1.025)" font-size="65.8" text-anchor="middle" fill="#262626">84</text>
<text transform="translate(1544.8 1186.5) scale(1 1.025)" font-size="65.8" text-anchor="middle" fill="#262626">96</text>
<text transform="translate(1764.6 1186.5) scale(1 1.025)" font-size="65.8" text-anchor="middle" fill="#262626">108</text>
<text transform="translate(1984.5 1186.5) scale(1 1.025)" font-size="65.8" text-anchor="middle" fill="#262626">120</text>
<text transform="translate(1104.7 1281.0) scale(1 1.040)" font-size="73.4" text-anchor="middle" fill="#262626">Time (hours)</text>
<text transform="translate(98.0 593.4) rotate(-90) scale(1 1.040)" font-size="73" text-anchor="middle" fill="#000">Relative velocity change (%)</text>
<text transform="translate(2261.0 593.0) rotate(-90) scale(1 1.040)" font-size="73" text-anchor="middle" fill="#000">Poisson's ratio</text>
<rect x="1297.35" y="384.35" width="613.3" height="407.3" fill="#fff" stroke="#262626" stroke-width="2.7"/>
<line x1="1310" y1="429.5" x2="1435" y2="429.5" stroke="#0000ff" stroke-width="9"/>
<text transform="translate(1445.3 453.0) scale(1 1.035)" font-size="59.6" text-anchor="start" fill="#000">P wave part</text>
<line x1="1310" y1="508.9" x2="1435" y2="508.9" stroke="#ff0000" stroke-width="9"/>
<text transform="translate(1445.3 532.4) scale(1 1.035)" font-size="59.6" text-anchor="start" fill="#000">S wave part</text>
<line x1="1310" y1="588.1" x2="1435" y2="588.1" stroke="#000000" stroke-width="9"/>
<text transform="translate(1445.3 611.6) scale(1 1.035)" font-size="59.6" text-anchor="start" fill="#000">Coda wave part</text>
<line x1="1310" y1="667.5" x2="1435" y2="667.5" stroke="#77ac30" stroke-width="9" stroke-dasharray="26 5 13.5 5"/>
<text transform="translate(1445.3 691.0) scale(1 1.035)" font-size="59.6" text-anchor="start" fill="#000">Full-length signal</text>
<line x1="1310" y1="746.5" x2="1435" y2="746.5" stroke="#4dbeee" stroke-width="9"/>
<text transform="translate(1445.3 770.0) scale(1 1.035)" font-size="59.6" text-anchor="start" fill="#000">Poisson's ratio</text>
</svg></body></html>
